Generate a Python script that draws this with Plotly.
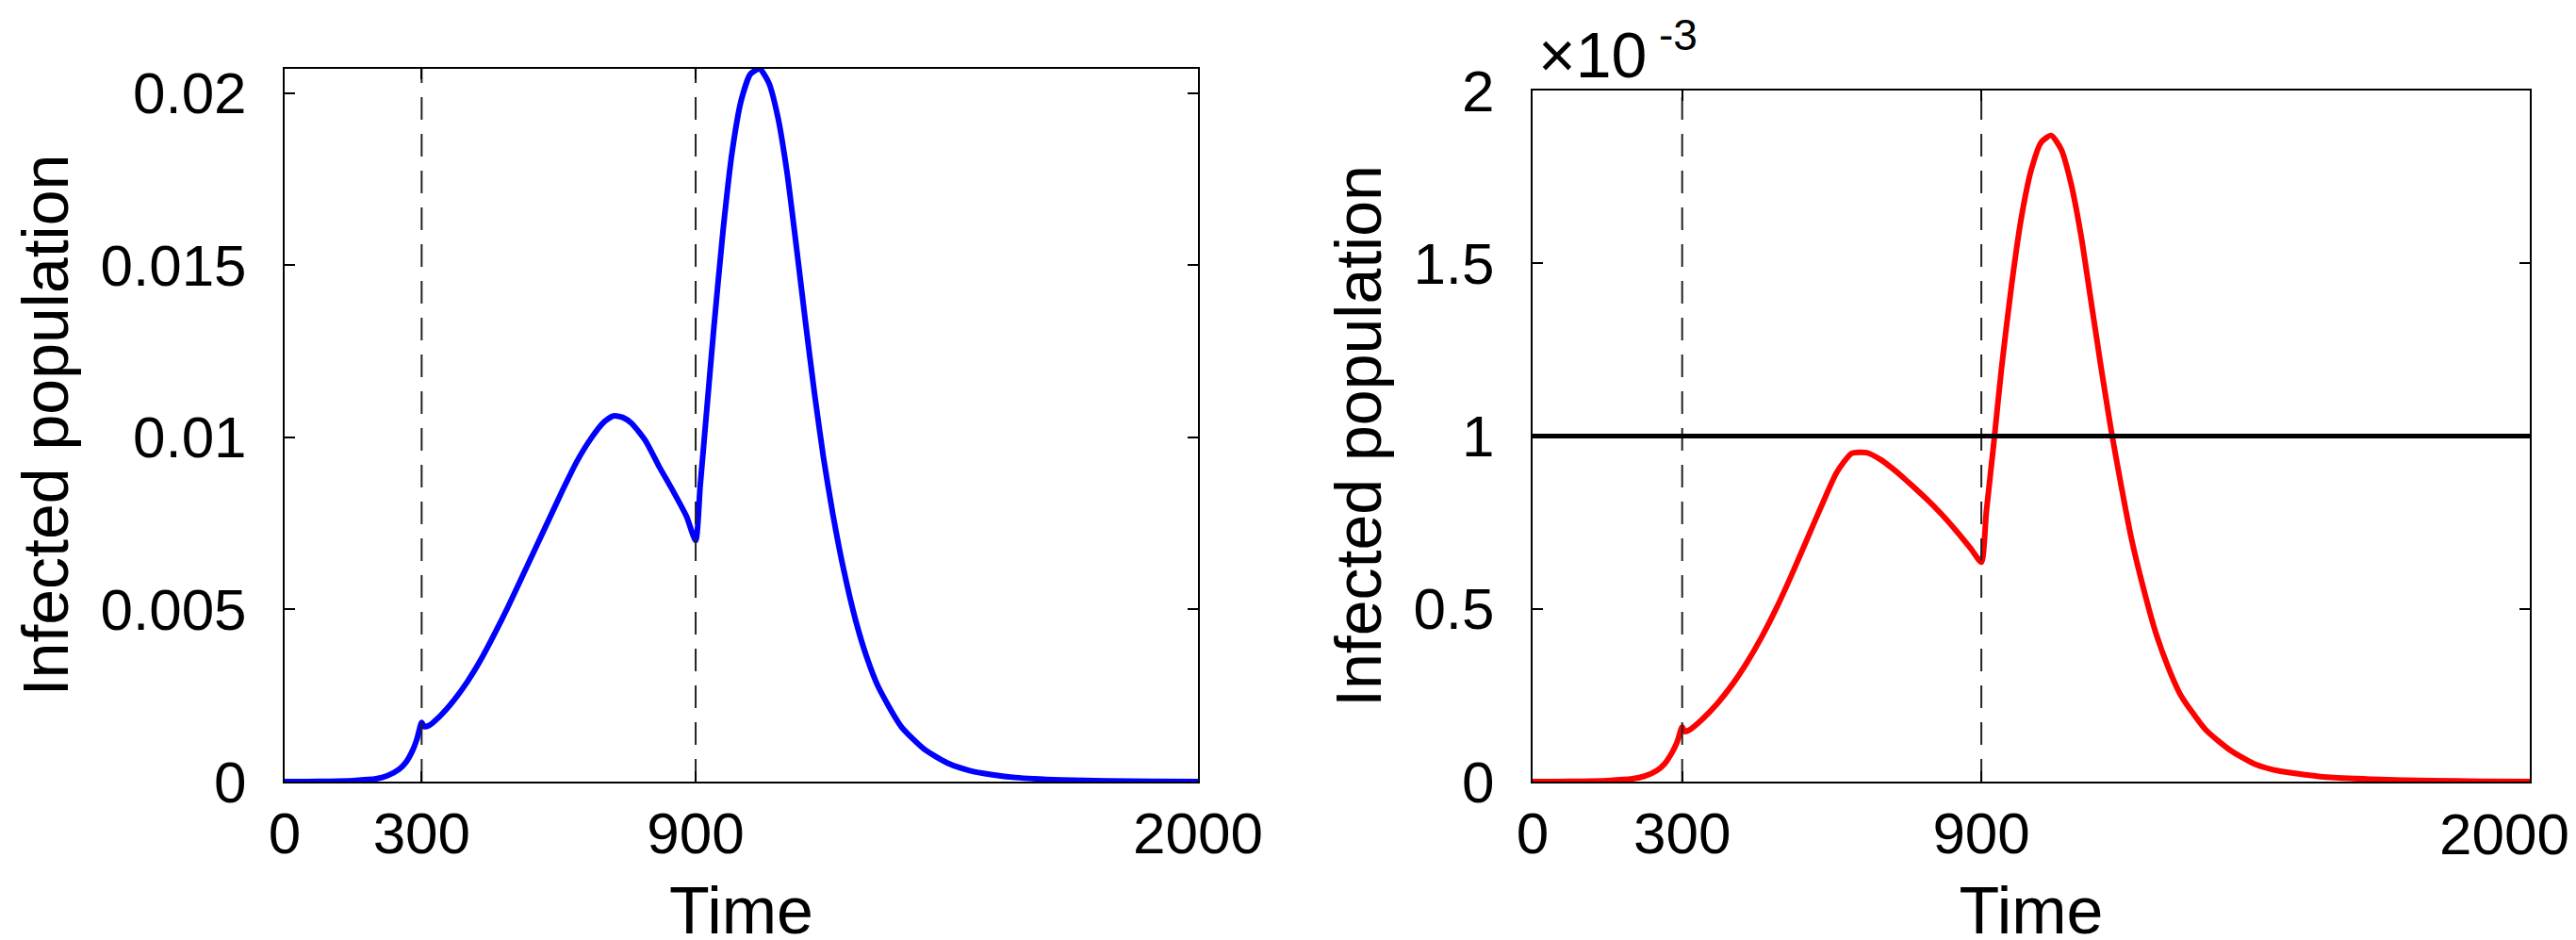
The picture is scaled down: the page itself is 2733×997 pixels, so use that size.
import plotly.graph_objects as go

# time points (same grid for both panels)
time = [0, 50, 100, 150, 200, 225, 250, 265, 280, 290, 300, 305, 315, 340, 370, 400,
        430, 460, 490, 520, 550, 580, 610, 640, 670, 700, 720, 740, 760, 790, 820,
        850, 880, 900, 910, 925, 940, 960, 980, 1000, 1020, 1040, 1060, 1080, 1100,
        1120, 1140, 1160, 1180, 1200, 1225, 1250, 1275, 1300, 1350, 1400, 1450, 1500,
        1550, 1600, 1700, 1800, 1900, 2000]

infected_left = [0, 0, 0.00001, 0.00003, 0.00008, 0.00017, 0.00035, 0.00055, 0.0009,
                 0.00125, 0.00172, 0.0016, 0.00162, 0.0019, 0.00235, 0.0029, 0.00355,
                 0.0043, 0.0051, 0.00595, 0.0068, 0.00765, 0.0085, 0.0093, 0.00995,
                 0.01045, 0.01062, 0.01058, 0.0104, 0.0099, 0.00915, 0.00845, 0.0077,
                 0.007, 0.0086, 0.0109, 0.0132, 0.016, 0.0183, 0.0198, 0.02055, 0.0207,
                 0.0203, 0.0193, 0.0177, 0.0156, 0.0134, 0.0113, 0.0094, 0.0078,
                 0.0061, 0.0047, 0.0036, 0.00275, 0.0016, 0.00095, 0.00055, 0.00032,
                 0.0002, 0.00012, 0.00005, 0.00002, 0.00001, 0]

infected_right = [0, 0, 0.000001, 0.000003, 0.000008, 0.000016, 0.000033, 0.000052,
                  0.000085, 0.000115, 0.000158, 0.000145, 0.00015, 0.00018, 0.000225,
                  0.00028, 0.000345, 0.00042, 0.000505, 0.0006, 0.0007, 0.0008,
                  0.000895, 0.00095, 0.000952, 0.00093, 0.000908, 0.000884, 0.000858,
                  0.000818, 0.000774, 0.000725, 0.000672, 0.000635, 0.00078, 0.00098,
                  0.00119, 0.00143, 0.00163, 0.00177, 0.00185, 0.00187, 0.00183,
                  0.00173, 0.00158, 0.00139, 0.0012, 0.00102, 0.00086, 0.00071,
                  0.00056, 0.00043, 0.00033, 0.00025, 0.00015, 0.00009, 0.00005,
                  0.00003, 0.00002, 0.000012, 0.000006, 0.000003, 0.000001, 0]

switch_times = [300, 900]
threshold = 0.001

x_ticks = [0, 300, 900, 2000]
x_ticktext_left = ["0", "300", "900", "2000"]
# last label of the right panel is placed separately so it stays inside the page
x_ticktext_right = ["0", "300", "900", ""]
y_ticks_left = [0, 0.005, 0.01, 0.015, 0.02]
y_ticktext_left = ["0", "0.005", "0.01", "0.015", "0.02"]
y_ticks_right = [0, 0.0005, 0.001, 0.0015, 0.002]
y_ticktext_right = ["0", "0.5", "1", "1.5", "2"]

ymax_left = 0.0207
ymax_right = 0.002

FONT = "Liberation Sans, Arial, sans-serif"

fig = go.Figure()

fig.add_trace(go.Scatter(x=time, y=infected_left, mode="lines",
                         line=dict(color="#0000ff", width=6, shape="spline", smoothing=0.6),
                         xaxis="x", yaxis="y"))
fig.add_trace(go.Scatter(x=time, y=infected_right, mode="lines",
                         line=dict(color="#ff0000", width=6, shape="spline", smoothing=0.6),
                         xaxis="x2", yaxis="y2"))

# dashed switch lines
for t in switch_times:
    fig.add_trace(go.Scatter(x=[t, t], y=[0, ymax_left], mode="lines",
                             line=dict(color="#222222", width=2, dash="24px,15px"),
                             xaxis="x", yaxis="y"))
    fig.add_trace(go.Scatter(x=[t, t], y=[0, ymax_right], mode="lines",
                             line=dict(color="#222222", width=2, dash="24px,15px"),
                             xaxis="x2", yaxis="y2"))

# threshold line on the right
fig.add_trace(go.Scatter(x=[0, 2000], y=[threshold, threshold], mode="lines",
                         line=dict(color="black", width=5), xaxis="x2", yaxis="y2"))

axis_common = dict(showgrid=False, zeroline=False, showline=True, linecolor="black",
                   linewidth=2, mirror="ticks", ticks="inside", ticklen=11, tickwidth=2,
                   tickcolor="black", automargin=False, ticklabeloverflow="allow",
                   tickfont=dict(size=62, color="black", family=FONT))

xtitle = dict(text="Time", font=dict(size=70), standoff=37)
ytitle = dict(text="Infected population", font=dict(size=68), standoff=12)

fig.update_layout(
    width=2733, height=997,
    margin=dict(l=0, r=0, t=0, b=0),
    paper_bgcolor="white", plot_bgcolor="white",
    showlegend=False,
    font=dict(family=FONT, color="black"),
    xaxis=dict(axis_common, domain=[294 / 2733, 1263 / 2733], range=[0, 2000],
               tickvals=x_ticks, ticktext=x_ticktext_left, ticklabelstandoff=0,
               title=xtitle),
    yaxis=dict(axis_common, domain=[1 - 821 / 997, 1 - 65 / 997], range=[0, ymax_left],
               tickvals=y_ticks_left, ticktext=y_ticktext_left, ticklabelstandoff=26,
               title=ytitle),
    xaxis2=dict(axis_common, domain=[1618 / 2733, 2676 / 2733], range=[0, 2000],
                tickvals=x_ticks, ticktext=x_ticktext_right, ticklabelstandoff=0,
                anchor="y2", title=xtitle),
    yaxis2=dict(axis_common, domain=[1 - 821 / 997, 1 - 88 / 997], range=[0, ymax_right],
                tickvals=y_ticks_right, ticktext=y_ticktext_right, ticklabelstandoff=26,
                anchor="x2", title=ytitle),
)

fig.add_annotation(text="2000", xref="x2", yref="paper", x=x_ticks[-1],
                   y=1 - 876 / 997, xanchor="right", yanchor="middle", xshift=44,
                   showarrow=False, font=dict(size=62, family=FONT, color="black"))

# exponent label of the right panel
fig.add_annotation(text="×10", xref="paper", yref="paper",
                   x=1622 / 2733, y=1 - 50 / 997, xanchor="left", yanchor="middle",
                   showarrow=False, font=dict(size=68, family=FONT, color="black"))
fig.add_annotation(text="-3", xref="paper", yref="paper",
                   x=1750 / 2733, y=1 - 29 / 997, xanchor="left", yanchor="middle",
                   showarrow=False, font=dict(size=46, family=FONT, color="black"))

fig.write_html("out.html")
